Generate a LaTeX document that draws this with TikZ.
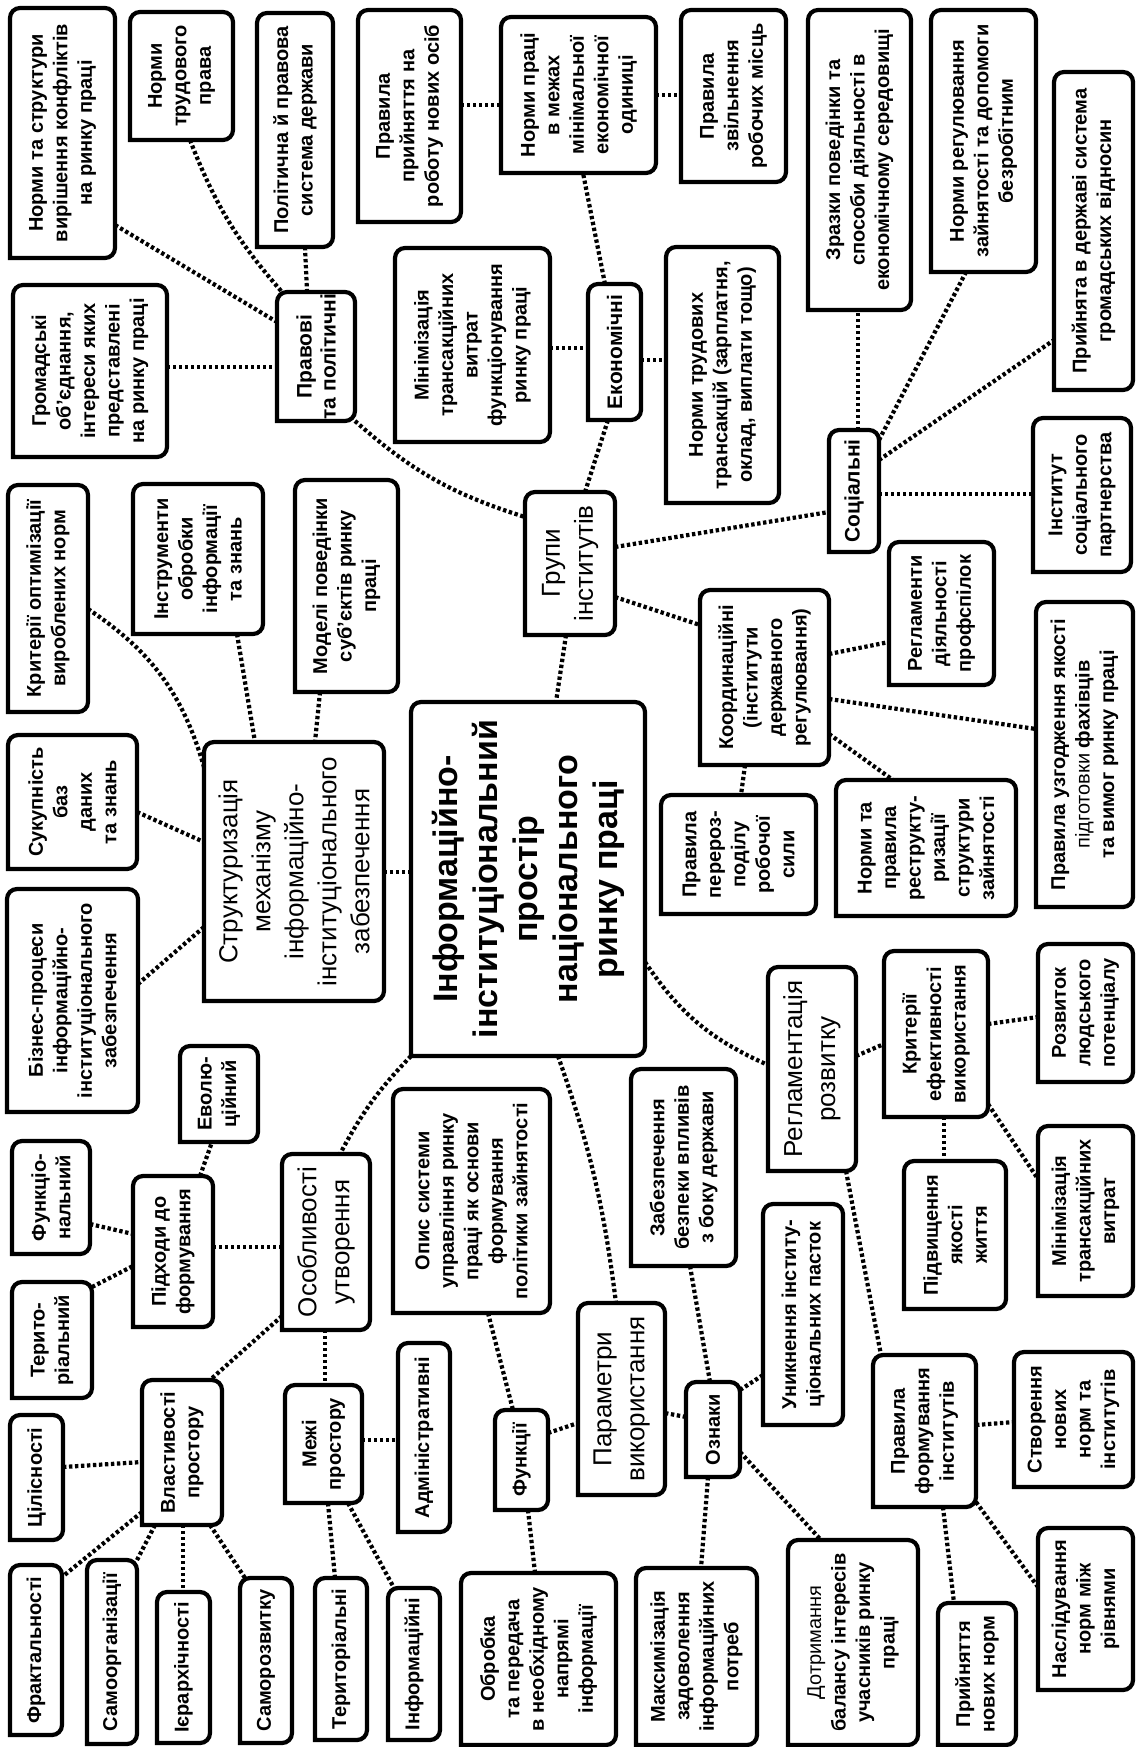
\documentclass[tikz,border=0pt]{standalone}
\usepackage{fontspec}
\setmainfont{Liberation Sans}
\tikzset{
  boxline/.style={line width=4.2pt, rounded corners=10pt, line cap=rect, fill=white, draw=black},
  txt/.style={rotate=90, align=center, inner sep=0pt, font=\fontsize{20}{24.5}\selectfont\bfseries},
  mid/.style={font=\fontsize{21}{24}\selectfont\bfseries},
  lvl/.style={font=\fontsize{26}{33}\selectfont},
  ctr/.style={font=\fontsize{34}{40}\selectfont\bfseries},
  con/.style={line width=4.2pt, dash pattern=on 3.4pt off 2.6pt},
}
\newcommand\bx[7][]{%
  \filldraw[boxline] (#3,#6) -- (#3,#4) -- (#5,#4) -- (#5,#6) -- (#3,#6);
  \node[txt,#1,minimum width={(#6-#4)*1pt},minimum height={(#5-#3)*1pt}] (#2) at ({(#3+#5)/2},{(#4+#6)/2}) {#7};
}
\newcommand\cn[7][]{%
  \draw[con] ([shift={(#3,#4)}]#2.center) to[#1] ([shift={(#6,#7)}]#5.center);
}
\begin{document}
\begin{tikzpicture}[x=1pt,y=-1pt]
\useasboundingbox (0,0) rectangle (1136,1747);
\fill[white] (0,0) rectangle (1136,1747);
% boxes
\bx{A1}{10}{8}{115}{258}{Норми та структури\\вирішення конфліктів\\на ринку праці}
\bx{A2}{130}{12}{233}{140}{Норми\\трудового\\права}
\bx{A3}{257}{13}{333}{247}{Політична й правова\\система держави}
\bx{A4}{358}{10}{461}{222}{Правила\\прийняття на\\роботу нових осіб}
\bx{GR}{13}{285}{167}{457}{Громадські\\об'єднання,\\інтереси яких\\представлені\\на ринку праці}
\bx[mid]{P}{277}{292}{355}{421}{Правові\\та політичні}
\bx{NP}{501}{17}{656}{173}{Норми праці\\в межах\\мінімальної\\економічної\\одиниці}
\bx{PZ}{681}{10}{786}{182}{Правила\\звільнення\\робочих місць}
\bx{MT}{395}{248}{550}{442}{Мінімізація\\трансакційних\\витрат\\функціонування\\ринку праці}
\bx[mid]{E}{588}{284}{641}{420}{Економічні}
\bx{NTT}{666}{247}{779}{503}{Норми трудових\\трансакцій (зарплатня,\\оклад, виплати тощо)}
\bx{ZR}{808}{10}{911}{310}{Зразки поведінки та\\способи діяльності в\\економічному середовищі}
\bx{NR}{931}{10}{1036}{272}{Норми регулювання\\зайнятості та допомоги\\безробітним}
\bx{PD}{1054}{72}{1133}{390}{Прийнята в державі система\\громадських відносин}
\bx[mid]{S}{829}{430}{879}{552}{Соціальні}
\bx{IS}{1033}{418}{1131}{572}{Інститут\\соціального\\партнерства}
\bx{KO}{8}{485}{88}{712}{Критерії оптимізації\\вироблених норм}
\bx{IN}{133}{484}{263}{634}{Інструменти\\обробки\\інформації\\та знань}
\bx{MO}{295}{480}{398}{692}{Моделі поведінки\\суб'єктів ринку\\праці}
\bx{SU}{8}{735}{137}{869}{Сукупність\\баз\\даних\\та знань}
\bx[lvl]{ST}{204}{742}{384}{1001}{Структуризація\\механізму\\інформаційно-\\інституціонального\\забезпечення}
\bx[lvl]{G}{525}{492}{615}{635}{Групи\\інститутів}
\bx[ctr]{C}{411}{702}{645}{1056}{Інформаційно-\\інституціональний\\простір\\національного\\ринку праці}
\bx{K}{700}{590}{829}{765}{Координаційні\\(інститути\\державного\\регулювання)}
\bx{PP}{661}{795}{816}{914}{Правила\\перероз-\\поділу\\робочої\\сили}
\bx{RP}{889}{542}{994}{685}{Регламенти\\діяльності\\профспілок}
\bx{NPR}{836}{780}{1016}{916}{Норми та\\правила\\реструкту-\\ризації\\структури\\зайнятості}
\bx{PU}{1036}{602}{1133}{907}{Правила узгодження якості\\{\mdseries підготовки} фахівців\\та вимог ринку праці}
\bx{BP}{7}{889}{138}{1112}{Бізнес-процеси\\інформаційно-\\інституціонального\\забезпечення}
\bx{EV}{180}{1046}{258}{1142}{Еволю-\\ційний}
\bx{FN}{12}{1141}{90}{1254}{Функціо-\\нальний}
\bx{PF}{133}{1176}{213}{1327}{Підходи до\\формування}
\bx[lvl]{OU}{282}{1154}{370}{1330}{Особливості\\утворення}
\bx{TR}{12}{1282}{92}{1398}{Терито-\\ріальний}
\bx{OS}{393}{1089}{550}{1313}{Опис системи\\управління ринку\\праці як основи\\формування\\політики зайнятості}
\bx{ZB}{631}{1069}{736}{1266}{Забезпечення\\безпеки впливів\\з боку держави}
\bx{UN}{763}{1204}{843}{1425}{Уникнення інститу-\\ціональних пасток}
\bx[lvl]{RR}{768}{967}{856}{1171}{Регламентація\\розвитку}
\bx{KE}{884}{951}{988}{1117}{Критерії\\ефективності\\використання}
\bx{RL}{1038}{944}{1133}{1082}{Розвиток\\людського\\потенціалу}
\bx{PV}{904}{1161}{1006}{1309}{Підвищення\\якості\\життя}
\bx{MV}{1038}{1126}{1133}{1296}{Мінімізація\\трансакційних\\витрат}
\bx{CL}{10}{1415}{63}{1540}{Цілісності}
\bx{VP}{142}{1380}{222}{1525}{Властивості\\простору}
\bx{MP}{285}{1385}{362}{1503}{Межі\\простору}
\bx{FR}{10}{1565}{62}{1735}{Фрактальності}
\bx{SO}{87}{1560}{137}{1744}{Самоорганізації}
\bx{IE}{157}{1592}{210}{1743}{Ієрархічності}
\bx{SR}{240}{1578}{292}{1743}{Саморозвитку}
\bx{TI}{315}{1578}{367}{1740}{Територіальні}
\bx{AD}{398}{1343}{450}{1532}{Адміністративні}
\bx{IF}{388}{1588}{440}{1740}{Інформаційні}
\bx{FU}{495}{1410}{548}{1510}{Функції}
\bx[lvl]{PR}{578}{1303}{665}{1495}{Параметри\\використання}
\bx{OZ}{686}{1382}{740}{1477}{Ознаки}
\bx{OB}{461}{1573}{616}{1745}{Обробка\\та передача\\в необхідному\\напрямі\\інформації}
\bx{MX}{636}{1568}{757}{1745}{Максимізація\\задоволення\\інформаційних\\потреб}
\bx{PFI}{873}{1355}{976}{1507}{Правила\\формування\\інститутів}
\bx{CN}{1014}{1352}{1133}{1487}{Створення\\нових\\норм та\\інститутів}
\bx{DT}{788}{1540}{918}{1745}{{\mdseries Дотримання}\\балансу інтересів\\учасників ринку\\праці}
\bx{PN}{938}{1603}{1016}{1745}{Прийняття\\нових норм}
\bx{NS}{1038}{1528}{1133}{1690}{Наслідування\\норм між\\рівнями}
% connectors
\cn{A1}{52.5}{92}{P}{-39}{-34.5}
\cn[bend right=10]{A2}{8.5}{64}{P}{-34}{-64.5}
\cn{A3}{10}{117}{P}{-9}{-64.5}
\cn{GR}{77}{-4}{P}{-39}{10.5}
\cn[bend right=12]{P}{39}{64.5}{G}{-45}{-46.5}
\cn{G}{15}{-71.5}{E}{-6.5}{68}
\cn{E}{-9.5}{-68}{NP}{4.5}{78}
\cn{MT}{77.5}{3}{E}{-26.5}{-4}
\cn{E}{26.5}{8}{NTT}{-56.5}{-15}
\cn{A4}{51.5}{-11}{NP}{-77.5}{10}
\cn{NP}{77.5}{0}{PZ}{-52.5}{-1}
\cn{G}{45}{-16.5}{S}{-25}{21}
\cn{S}{4}{-61}{ZR}{-1.5}{150}
\cn{S}{25}{-51}{NR}{-17.5}{131}
\cn{S}{25}{-31}{PD}{-39.5}{109}
\cn{S}{25}{3}{IS}{-49}{-1}
\cn{G}{45}{33.5}{K}{-64.5}{-52.5}
\cn{G}{-4}{71.5}{C}{28}{-177}
\cn{K}{64.5}{-23.5}{RP}{-52.5}{28.5}
\cn{K}{64.5}{21.5}{PU}{-48.5}{-25.5}
\cn{K}{64.5}{56.5}{NPR}{-33}{-68}
\cn{K}{-19.5}{87.5}{PP}{2.5}{-59.5}
\cn{C}{-117}{-7}{ST}{90}{0.5}
\cn[bend right=16]{C}{117}{83}{RR}{-44}{-4}
\cn[bend left=6]{C}{30}{177}{PR}{-5.5}{-96}
\cn[bend right=8]{C}{-117}{177}{OU}{14}{-88}
\cn{ST}{-90}{55.5}{BP}{65.5}{-16.5}
\cn{SU}{64.5}{10}{ST}{-90}{-29.5}
\cn[bend left=20]{KO}{40}{10.5}{ST}{-90}{-104.5}
\cn{IN}{39}{75}{ST}{-39}{-129.5}
\cn{MO}{-26.5}{106}{ST}{21}{-129.5}
\cn{PF}{40}{-4.5}{OU}{-44}{5}
\cn{PF}{27}{-75.5}{EV}{-7}{48}
\cn{FN}{39}{26.5}{PF}{-40}{-17.5}
\cn{TR}{40}{-53}{PF}{-40}{14.5}
\cn{OU}{-44}{74}{VP}{28}{-72.5}
\cn{OU}{-1}{88}{MP}{1.5}{-59}
\cn{CL}{26.5}{-10.5}{VP}{-40}{9.5}
\cn{VP}{-40}{59.5}{FR}{26}{-73}
\cn{VP}{-27}{72.5}{SO}{25}{-92}
\cn{VP}{1}{72.5}{IE}{-0.5}{-75.5}
\cn{VP}{28}{72.5}{SR}{-21}{-82.5}
\cn{MP}{4.5}{59}{TI}{-6}{-81}
\cn{MP}{24.5}{59}{IF}{-20}{-76}
\cn{MP}{38.5}{-4}{AD}{-26}{2.5}
\cn{FU}{26.5}{-27}{PR}{-43.5}{24}
\cn{OS}{16.5}{112}{FU}{-8.5}{-50}
\cn{FU}{6.5}{50}{OB}{-3.5}{-86}
\cn{PR}{43.5}{14}{OZ}{-27}{-12.5}
\cn{ZB}{6.5}{98.5}{OZ}{-3}{-47.5}
\cn{OZ}{27}{-39.5}{UN}{-40}{60.5}
\cn{OZ}{27}{22.5}{DT}{-32}{-102.5}
\cn{OZ}{-5}{47.5}{MX}{4.5}{-88.5}
\cn{RR}{44}{-13}{KE}{-52}{10}
\cn{RR}{34}{102}{PFI}{-43.5}{-76}
\cn{KE}{52}{-10}{RL}{-47.5}{4}
\cn{KE}{8}{83}{PV}{-11}{-74}
\cn{KE}{52}{70}{MV}{-47.5}{-32}
\cn{PFI}{51.5}{-6}{CN}{-59.5}{2.5}
\cn{PFI}{18.5}{76}{PN}{-23}{-71}
\cn{PFI}{51.5}{71}{NS}{-47.5}{-22}
\end{tikzpicture}
\end{document}
